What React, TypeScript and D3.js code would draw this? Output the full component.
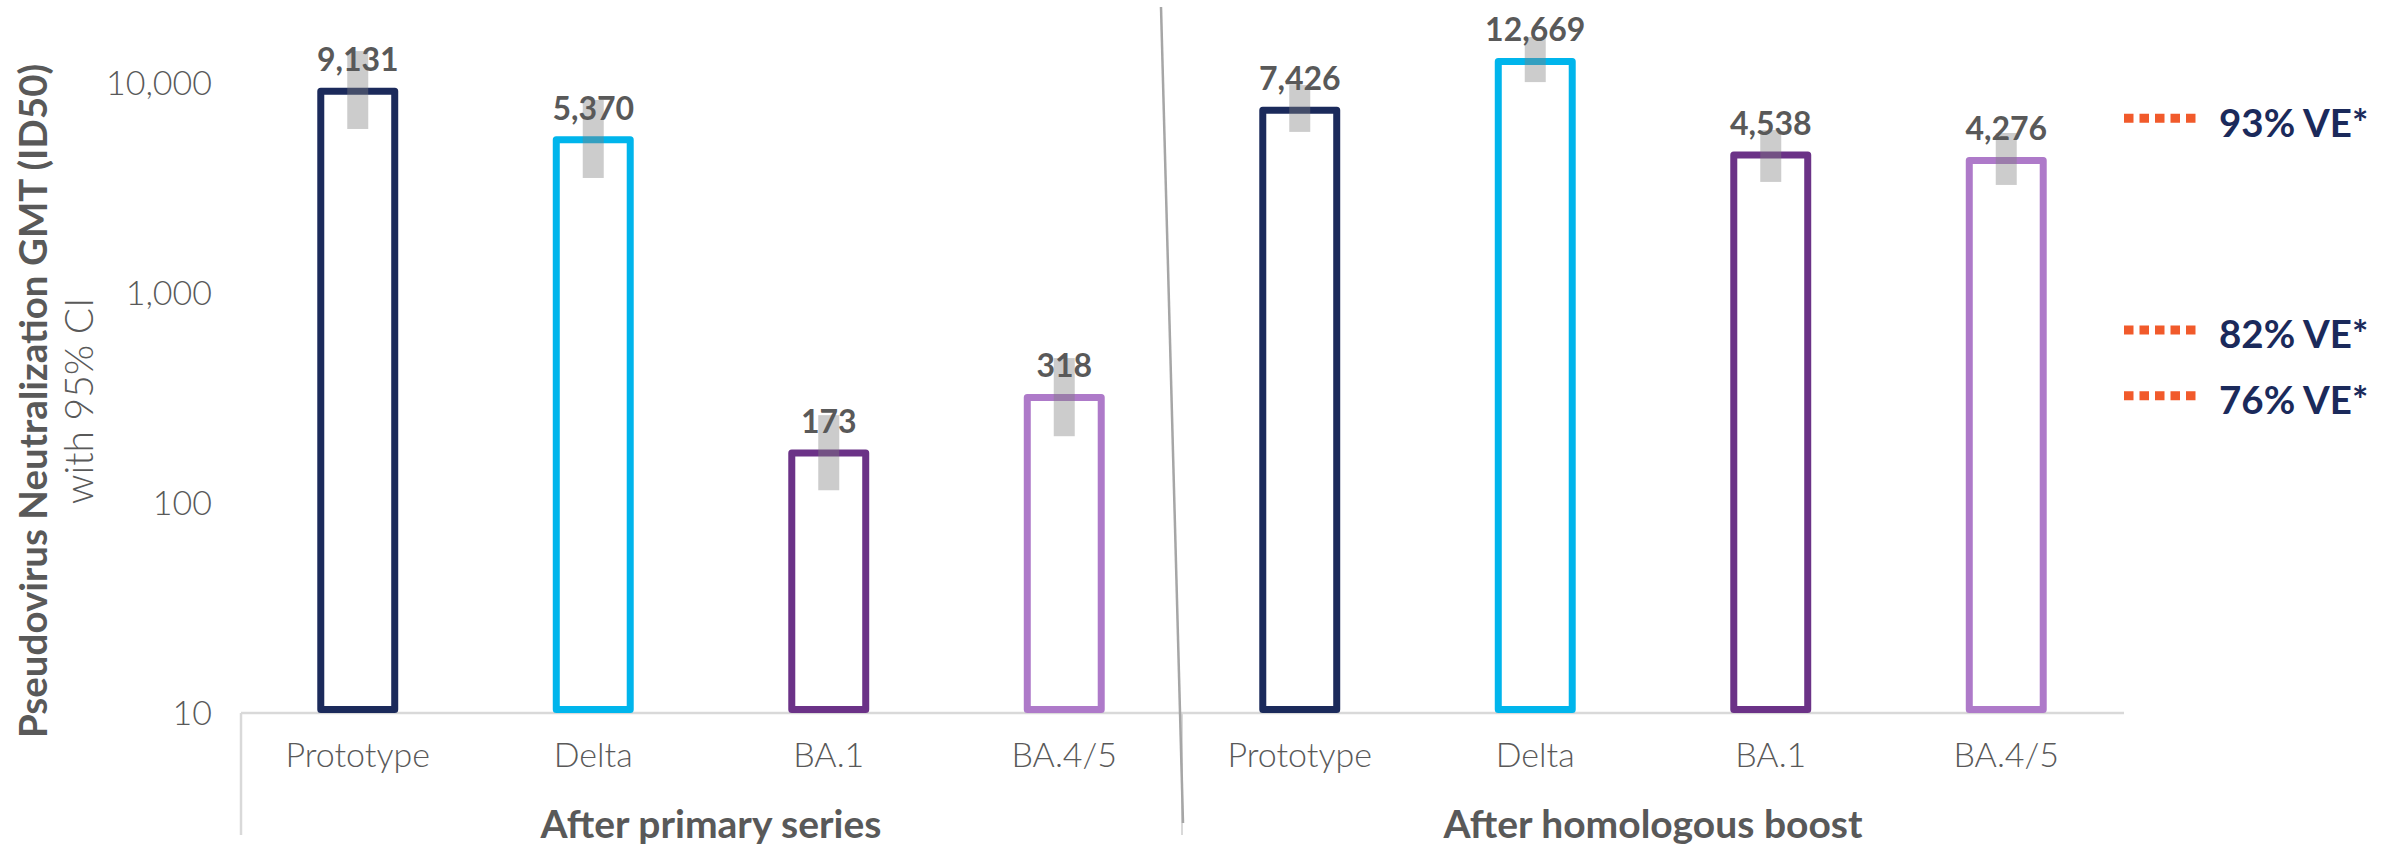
import React from "react";
import * as d3 from "d3";

// Pseudovirus neutralization GMTs (ID50) with 95% confidence intervals
const groups = ["After primary series", "After homologous boost"];
const variants = ["Prototype", "Delta", "BA.1", "BA.4/5"];
const variantColors = ["#1B2A5B", "#00B5EC", "#6B3287", "#AE7AC9"];

const primaryGmt = [9131, 5370, 173, 318];
const primaryCiLow = [6040, 3530, 115, 208];
const primaryCiHigh = [14190, 8300, 262, 490];

const boostGmt = [7426, 12669, 4538, 4276];
const boostCiLow = [5850, 10100, 3380, 3270];
const boostCiHigh = [9775, 16560, 5970, 5780];

// GMT levels associated with vaccine efficacy estimates
const veLabels = ["93% VE*", "82% VE*", "76% VE*"];
const veGmt = [6800, 667, 324];

const yTicks = [10, 100, 1000, 10000];

const W = 2387;
const H = 850;
const FONT = "Lato, 'Open Sans', 'DejaVu Sans', sans-serif";
const TEXT = "#595959";

type Row = {
  key: string;
  group: number;
  variant: string;
  color: string;
  gmt: number;
  lo: number;
  hi: number;
};

const rows: Row[] = [];
groups.forEach((g, gi) => {
  const gmt = gi === 0 ? primaryGmt : boostGmt;
  const lo = gi === 0 ? primaryCiLow : boostCiLow;
  const hi = gi === 0 ? primaryCiHigh : boostCiHigh;
  variants.forEach((v, vi) => {
    rows.push({
      key: `${gi}-${v}`,
      group: gi,
      variant: v,
      color: variantColors[vi],
      gmt: gmt[vi],
      lo: lo[vi],
      hi: hi[vi],
    });
  });
});

export default function App() {
  const left = 240;
  const right = 2124;
  const base = 713;

  const x = d3
    .scaleBand<string>()
    .domain(rows.map((r) => r.key))
    .range([left, right])
    .paddingInner(0.686)
    .paddingOuter(0.343);

  const y = d3.scaleLog().domain([10, 10000]).range([base, 83]);

  const bw = x.bandwidth();
  const step = x.step();
  const stroke = 7;
  const fmt = d3.format(",");

  const groupCenter = (gi: number) => left + step * (gi * 4 + 2);
  const divider = left + step * 4;

  return (
    <svg
      width={W}
      height={H}
      style={{ position: "absolute", left: 0, top: 0, background: "#fff" }}
      fontFamily={FONT}
    >
      {/* y-axis title */}
      <g transform={`translate(47, 401) rotate(-90)`}>
        <text textAnchor="middle" fontSize={38.5} fontWeight={700} fill={TEXT}>
          Pseudovirus Neutralization GMT (ID50)
        </text>
      </g>
      <g transform={`translate(93, 401) rotate(-90)`}>
        <text textAnchor="middle" fontSize={39} fontWeight={300} fill={TEXT}>
          with 95% CI
        </text>
      </g>

      {/* y tick labels */}
      {yTicks.map((t) => (
        <text
          key={t}
          x={212}
          y={y(t)}
          dy="0.35em"
          textAnchor="end"
          fontSize={34}
          fontWeight={300}
          fill={TEXT}
        >
          {fmt(t)}
        </text>
      ))}

      {/* category axis */}
      <line x1={left + 1} x2={right} y1={base} y2={base} stroke="#D9D9D9" strokeWidth={2.5} />
      <line x1={left + 1} x2={left + 1} y1={base} y2={835} stroke="#D9D9D9" strokeWidth={2.5} />
      <line x1={divider} x2={divider} y1={base} y2={835} stroke="#D9D9D9" strokeWidth={2} />

      {/* bars */}
      {rows.map((r) => (
        <rect
          key={r.key}
          x={x(r.key)}
          y={y(r.gmt)}
          width={bw}
          height={base - stroke / 2 - y(r.gmt)}
          fill="#fff"
          stroke={r.color}
          strokeWidth={stroke}
          strokeLinejoin="round"
        />
      ))}

      {/* confidence intervals */}
      {rows.map((r) => (
        <rect
          key={`ci-${r.key}`}
          x={(x(r.key) as number) + bw / 2 - 10.5}
          y={y(r.hi)}
          width={21}
          height={y(r.lo) - y(r.hi)}
          fill="#808080"
          opacity={0.4}
        />
      ))}

      {/* value labels */}
      {rows.map((r) => (
        <text
          key={`v-${r.key}`}
          x={(x(r.key) as number) + bw / 2}
          y={y(r.gmt) - 20}
          textAnchor="middle"
          fontSize={32}
          fontWeight={700}
          fill={TEXT}
        >
          {fmt(r.gmt)}
        </text>
      ))}

      {/* variant labels */}
      {rows.map((r) => (
        <text
          key={`c-${r.key}`}
          x={(x(r.key) as number) + bw / 2}
          y={767}
          textAnchor="middle"
          fontSize={34}
          fontWeight={300}
          fill={TEXT}
        >
          {r.variant}
        </text>
      ))}

      {/* group labels */}
      {groups.map((g, gi) => (
        <text
          key={g}
          x={groupCenter(gi)}
          y={838}
          textAnchor="middle"
          fontSize={39}
          fontWeight={700}
          fill={TEXT}
        >
          {g}
        </text>
      ))}

      {/* group divider */}
      <line x1={divider - 21} y1={7} x2={divider + 1} y2={823} stroke="#A6A6A6" strokeWidth={2.5} />

      {/* VE reference markers */}
      {veLabels.map((lab, i) => (
        <g key={lab}>
          <line
            x1={right}
            x2={right + 72}
            y1={y(veGmt[i])}
            y2={y(veGmt[i])}
            stroke="#F15A2B"
            strokeWidth={9}
            strokeDasharray="9.5 6"
          />
          <text
            x={right + 95}
            y={y(veGmt[i]) + 5}
            dy="0.35em"
            fontSize={38.5}
            fontWeight={700}
            fill="#1B2A5B"
          >
            {lab}
          </text>
        </g>
      ))}
    </svg>
  );
}
